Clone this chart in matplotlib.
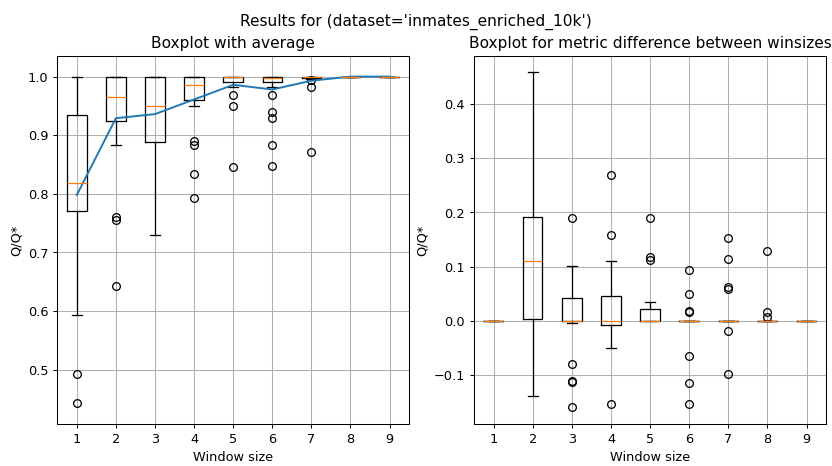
import matplotlib
matplotlib.use("Agg")
import matplotlib.pyplot as plt

windows = [1, 2, 3, 4, 5, 6, 7, 8, 9]

# Q/Q* per window size: box statistics
q_q1 = [0.771, 0.925, 0.888, 0.960, 0.991, 0.991, 0.998, 1.0, 1.0]
q_med = [0.819, 0.966, 0.950, 0.986, 1.0, 0.998, 1.0, 1.0, 1.0]
q_q3 = [0.9345, 1.0, 1.0, 1.0, 1.0, 1.0, 1.0, 1.0, 1.0]
q_whislo = [0.593, 0.883, 0.730, 0.950, 0.983, 0.983, 0.996, 1.0, 1.0]
q_whishi = [1.0, 1.0, 1.0, 1.0, 1.0, 1.0, 1.0, 1.0, 1.0]
q_fliers = [
    [0.493, 0.442],
    [0.761, 0.756, 0.643],
    [],
    [0.890, 0.883, 0.834, 0.793],
    [0.969, 0.950, 0.845],
    [0.969, 0.940, 0.930, 0.884, 0.847],
    [0.994, 0.982, 0.872],
    [],
    [],
]
q_mean = [0.798, 0.929, 0.936, 0.961, 0.986, 0.978, 0.993, 1.0, 1.0]

# difference between consecutive window sizes
d_q1 = [0.0, 0.003, -0.001, -0.007, 0.0, 0.0, 0.0, 0.0, 0.0]
d_med = [0.0, 0.111, 0.0, -0.001, 0.0, 0.0, 0.0, 0.0, 0.0]
d_q3 = [0.0, 0.192, 0.043, 0.045, 0.0226, 0.0, 0.0, 0.0, 0.0]
d_whislo = [0.0, -0.139, -0.003, -0.050, 0.0, 0.0, 0.0, 0.0, 0.0]
d_whishi = [0.0, 0.458, 0.102, 0.111, 0.035, 0.0, 0.0, 0.0, 0.0]
d_fliers = [
    [],
    [],
    [0.189, -0.079, -0.110, -0.113, -0.159],
    [0.269, 0.159, -0.153],
    [0.189, 0.118, 0.112],
    [0.094, 0.050, 0.018, 0.016, -0.064, -0.115, -0.153],
    [0.1525, 0.1145, 0.062, 0.059, -0.018, -0.0975],
    [0.128, 0.017, 0.0074],
    [],
]


def make_stats(q1, med, q3, lo, hi, fl):
    return [
        dict(q1=a, med=b, q3=c, whislo=d, whishi=e, fliers=f)
        for a, b, c, d, e, f in zip(q1, med, q3, lo, hi, fl)
    ]


fig = plt.figure(figsize=(9.0, 5.04), dpi=92.5)
ax1 = fig.add_axes([0.0688, 0.0901, 0.4226, 0.7904])
ax2 = fig.add_axes([0.5694, 0.0901, 0.4230, 0.7904])

fig.suptitle("Results for (dataset='inmates_enriched_10k')", y=0.97)

ax1.bxp(make_stats(q_q1, q_med, q_q3, q_whislo, q_whishi, q_fliers),
        positions=windows)
ax1.plot(windows, q_mean)
ax1.set_ylim(0.407, 1.036)
ax1.set_title("Boxplot with average")
ax1.set_xlabel("Window size")
ax1.set_ylabel("Q/Q*")
ax1.grid(True)

ax2.bxp(make_stats(d_q1, d_med, d_q3, d_whislo, d_whishi, d_fliers),
        positions=windows)
ax2.set_title("Boxplot for metric difference between winsizes")
ax2.set_xlabel("Window size")
ax2.set_ylabel("Q/Q*")
ax2.grid(True)

fig.savefig("out.png", dpi=92.5)
